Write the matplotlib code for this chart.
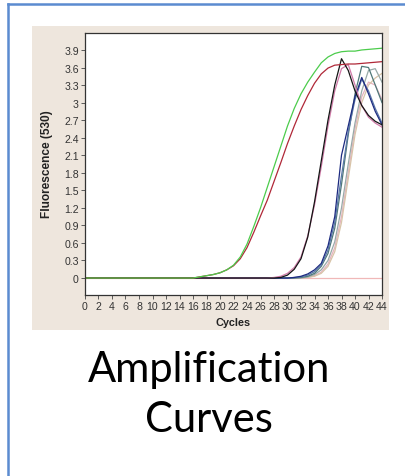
import matplotlib
matplotlib.use("Agg")
import matplotlib.pyplot as plt
from matplotlib.patches import Rectangle
from matplotlib.lines import Line2D

cycles = list(range(0, 45))

def pad(start, vals):
    """Values before `start` are baseline zero; vals listed per cycle from start."""
    out = [0.0] * start + list(vals)
    return out[:45]

green = pad(17, [0.02, 0.04, 0.06, 0.09, 0.14, 0.22, 0.36, 0.58, 0.88, 1.20, 1.55, 1.90,
                 2.25, 2.60, 2.90, 3.15, 3.35, 3.52, 3.68, 3.78, 3.84, 3.87, 3.88, 3.88,
                 3.90, 3.91, 3.92, 3.93])
red = pad(17, [0.02, 0.04, 0.06, 0.09, 0.14, 0.21, 0.33, 0.52, 0.78, 1.06, 1.33, 1.65,
               1.97, 2.30, 2.60, 2.88, 3.12, 3.33, 3.49, 3.59, 3.64, 3.65, 3.66, 3.66,
               3.67, 3.68, 3.69, 3.70])
black = pad(29, [0.01, 0.05, 0.15, 0.33, 0.70, 1.30, 2.00, 2.70, 3.30, 3.75, 3.55, 3.20,
                 2.95, 2.78, 2.68, 2.62])
pink = pad(28, [0.01, 0.03, 0.08, 0.18, 0.36, 0.72, 1.25, 1.90, 2.60, 3.20, 3.58, 3.65,
                3.30, 2.95, 2.75, 2.65, 2.58])
navy = pad(31, [0.01, 0.03, 0.07, 0.14, 0.25, 0.55, 1.05, 2.10, 2.60, 3.10, 3.43, 3.15,
                2.85, 2.62])
steel = pad(31, [0.01, 0.02, 0.05, 0.11, 0.22, 0.48, 0.95, 1.75, 2.50, 3.05, 3.40, 3.20,
                 2.90, 2.65])
teal = pad(32, [0.01, 0.03, 0.08, 0.20, 0.42, 0.85, 1.60, 2.45, 3.15, 3.62, 3.60, 3.30,
                3.00])
grey = pad(33, [0.02, 0.06, 0.14, 0.30, 0.62, 1.20, 1.95, 2.65, 3.20, 3.55, 3.58, 3.35])
tan = pad(33, [0.01, 0.03, 0.08, 0.20, 0.45, 0.95, 1.70, 2.45, 3.00, 3.30, 3.42, 3.50])
rose = pad(33, [0.01, 0.04, 0.10, 0.24, 0.52, 1.05, 1.80, 2.55, 3.10, 3.35, 3.30, 3.05])
blank = [0.0] * 45

series = [
    ("blank", blank, "#f0b8b8"),
    ("rose", rose, "#e6b4c0"),
    ("tan", tan, "#d8c4a8"),
    ("grey", grey, "#98aaa8"),
    ("teal", teal, "#4f7878"),
    ("steel", steel, "#5a78a8"),
    ("navy", navy, "#1c2a80"),
    ("pink", pink, "#d07aa8"),
    ("black", black, "#151515"),
    ("red", red, "#b02838"),
    ("green", green, "#4ccc4c"),
]

xticks = list(range(0, 45, 2))
yticks = [0, 0.3, 0.6, 0.9, 1.2, 1.5, 1.8, 2.1, 2.4, 2.7, 3, 3.3, 3.6, 3.9]
ytick_labels = ["0", "0.3", "0.6", "0.9", "1.2", "1.5", "1.8", "2.1", "2.4", "2.7",
                "3", "3.3", "3.6", "3.9"]

W, H = 406, 477
fig = plt.figure(figsize=(W / 100, H / 100), dpi=100)
fig.patch.set_facecolor("white")

# background layer: beige panel + blue slide border
bg = fig.add_axes([0, 0, 1, 1], zorder=0)
bg.set_xlim(0, W)
bg.set_ylim(H, 0)
bg.axis("off")
bg.add_patch(Rectangle((32, 27), 357, 304, facecolor="#eee6dd", edgecolor="none"))
bg.add_line(Line2D([8, 404], [5, 5], color="#5b8bd0", lw=1.8))
bg.add_line(Line2D([8, 8], [5, H], color="#5b8bd0", lw=1.8))

ax = fig.add_axes([85 / W, 1 - 296 / H, 297 / W, 262 / H], zorder=2)
ax.set_facecolor("white")
for name, vals, col in series:
    ax.plot(cycles, vals, color=col, lw=0.9)

ax.set_xlim(0, 44)
ax.set_ylim(-0.29, 4.19)
ax.set_xticks(xticks)
ax.set_xticklabels([str(t) for t in xticks])
ax.set_yticks(yticks)
ax.set_yticklabels(ytick_labels)
ax.tick_params(axis="both", which="major", direction="out", length=3, width=0.6,
               color="#444444", labelsize=7.6, labelcolor="#333333", pad=1.5)
for lab in ax.get_xticklabels() + ax.get_yticklabels():
    lab.set_fontfamily("Liberation Sans")
for sp in ax.spines.values():
    sp.set_color("#333333")
    sp.set_linewidth(0.9)

fig.text(47 / W, 1 - 164 / H, "Fluorescence (530)", rotation=90, ha="center", va="center",
         fontsize=8.6, fontweight="bold", family="Liberation Sans", color="#222222",
         zorder=3)
fig.text(233 / W, 1 - 323 / H, "Cycles", ha="center", va="center",
         fontsize=7.8, fontweight="bold", family="Liberation Sans", color="#222222",
         zorder=3)

fig.text(209 / W, 1 - 382 / H, "Amplification", ha="center", va="baseline",
         fontsize=30, family="Lato", color="black", zorder=3)
fig.text(209 / W, 1 - 432 / H, "Curves", ha="center", va="baseline",
         fontsize=30, family="Lato", color="black", zorder=3)

fig.savefig("out.png", dpi=100)
